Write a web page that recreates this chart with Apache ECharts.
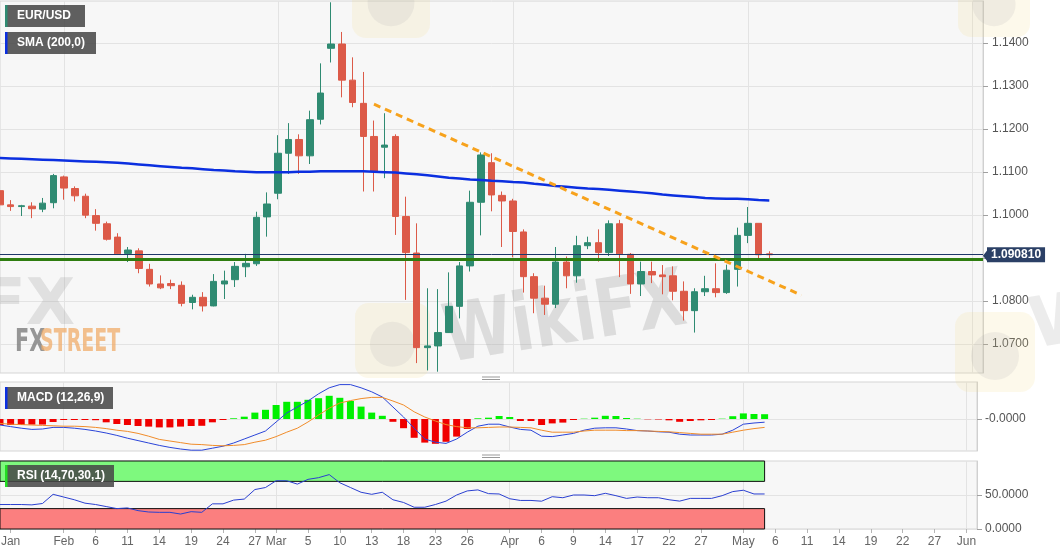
<!DOCTYPE html>
<html><head><meta charset="utf-8">
<script src="https://cdn.jsdelivr.net/npm/echarts@6/dist/echarts.min.js"></script>
<style>html,body{margin:0;padding:0;background:#fff}#c{width:1060px;height:555px}</style>
</head><body><div id="c"></div><script>
const dates = ['01-24','01-27','01-28','01-29','01-30','01-31',
'02-03','02-04','02-05','02-06','02-07','02-10','02-11','02-12','02-13','02-14','02-17','02-18','02-19','02-20','02-21','02-24','02-25','02-26','02-27','02-28',
'03-02','03-03','03-04','03-05','03-06','03-09','03-10','03-11','03-12','03-13','03-16','03-17','03-18','03-19','03-20','03-23','03-24','03-25','03-26','03-27','03-30','03-31',
'04-01','04-02','04-03','04-06','04-07','04-08','04-09','04-10','04-13','04-14','04-15','04-16','04-17','04-20','04-21','04-22','04-23','04-24','04-27','04-28','04-29','04-30',
'05-01','05-04','05-05','05-06','05-07','05-08','05-11','05-12','05-13','05-14','05-15','05-18','05-19','05-20','05-21','05-22','05-25','05-26','05-27','05-28','05-29',
'06-01','06-02'];

const opens = [1.1057,1.1024,1.1020,1.1021,1.1014,1.1029,1.1089,1.1062,1.1044,1.0999,
1.0980,1.0949,1.0911,1.0917,1.0874,1.0840,1.0841,1.0837,1.0797,1.0809,
1.0789,1.0840,1.0850,1.0880,1.0887,1.0996,1.1051,1.1144,1.1176,1.1138,
1.1223,1.1388,1.1398,1.1314,1.1260,1.1183,1.1158,1.1183,1.0997,1.0912,
1.0692,1.0696,1.0727,1.0788,1.0882,1.1030,1.1122,1.1046,1.1033,1.0961,
1.0857,1.0807,1.0793,1.0891,1.0859,1.0929,1.0936,1.0913,1.0980,1.0909,
1.0840,1.0869,1.0861,1.0859,1.0823,1.0778,1.0822,1.0829,1.0820,1.0874,
1.0953,1.0981,1.0910];
const closes = [1.1024,1.1020,1.1022,1.1015,1.1028,1.1092,1.1063,1.1045,1.1000,1.0981,
1.0944,1.0910,1.0919,1.0876,1.0840,1.0831,1.0836,1.0795,1.0809,1.0789,
1.0846,1.0847,1.0881,1.0888,1.0995,1.1026,1.1144,1.1176,1.1138,1.1222,
1.1284,1.1398,1.1314,1.1262,1.1183,1.1102,1.1163,1.0997,1.0913,1.0692,
1.0696,1.0727,1.0788,1.0882,1.1030,1.1140,1.1047,1.1033,1.0962,1.0857,
1.0807,1.0793,1.0891,1.0859,1.0929,1.0936,1.0913,1.0980,1.0910,1.0840,
1.0869,1.0861,1.0857,1.0823,1.0778,1.0822,1.0829,1.0820,1.0872,1.0953,
1.0981,1.0908,1.0908];
const highs = [1.1062,1.1035,1.1024,1.1030,1.1040,1.1096,1.1092,1.1067,1.1050,1.1014,
1.0985,1.0958,1.0926,1.0923,1.0887,1.0860,1.0850,1.0846,1.0815,1.0821,
1.0863,1.0871,1.0891,1.0910,1.1008,1.1053,1.1186,1.1214,1.1188,1.1243,
1.1353,1.1495,1.1426,1.1367,1.1333,1.1220,1.1237,1.1188,1.1043,1.0981,
1.0830,1.0828,1.0867,1.0891,1.1057,1.1146,1.1144,1.1055,1.1038,1.0967,
1.0865,1.0836,1.0926,1.0904,1.0952,1.0950,1.0967,1.0988,1.0989,1.0912,
1.0892,1.0892,1.0884,1.0881,1.0846,1.0830,1.0859,1.0888,1.0885,1.0971,
1.1019,1.0981,1.0916];
const lows = [1.1018,1.1010,1.0998,1.0993,1.1007,1.1016,1.1036,1.1032,1.0993,1.0964,
1.0941,1.0908,1.0891,1.0865,1.0834,1.0828,1.0828,1.0788,1.0781,1.0776,
1.0788,1.0805,1.0833,1.0856,1.0882,1.0950,1.1037,1.1096,1.1096,1.1119,
1.1211,1.1355,1.1274,1.1251,1.1055,1.1055,1.1086,1.0954,1.0803,1.0656,
1.0639,1.0636,1.0726,1.0760,1.0869,1.0953,1.1009,1.0926,1.0902,1.0820,
1.0772,1.0768,1.0784,1.0830,1.0843,1.0921,1.0892,1.0905,1.0856,1.0817,
1.0812,1.0842,1.0816,1.0802,1.0755,1.0727,1.0812,1.0809,1.0817,1.0834,
1.0935,1.0900,1.0900];

const sma200 = [1.1133,1.1132,1.1131,1.1130,1.1129,1.1128,1.1127,1.1126,1.1125,1.1124,
1.1123,1.1122,1.1120,1.1118,1.1116,1.1114,1.1112,1.1110,1.1109,1.1107,
1.1105,1.1104,1.1102,1.1101,1.1100,1.1100,1.1100,1.1100,1.1101,1.1101,
1.1102,1.1102,1.1102,1.1102,1.1102,1.1101,1.1100,1.1099,1.1097,1.1095,
1.1093,1.1090,1.1087,1.1085,1.1083,1.1082,1.1080,1.1079,1.1077,1.1076,
1.1073,1.1071,1.1068,1.1066,1.1064,1.1062,1.1061,1.1059,1.1057,1.1055,
1.1053,1.1051,1.1048,1.1046,1.1044,1.1042,1.1040,1.1039,1.1038,1.1038,
1.1037,1.1035,1.1034];

const macdHist = [-0.0015,-0.0015,-0.0015,-0.0014,-0.0014,-0.00075,-0.00025,-0.00025,-0.00025,-0.0003,
-0.00083,-0.00125,-0.0015,-0.00175,-0.0019,-0.0021,-0.0021,-0.0019,-0.00175,-0.0017,
-0.00083,-0.00025,0.00018,0.00058,0.0016,0.0023,0.0035,0.0043,0.0043,0.0048,
0.0052,0.0058,0.0053,0.0045,0.0031,0.0016,0.0008,-0.0007,-0.0023,-0.0047,
-0.0059,-0.0062,-0.0057,-0.0044,-0.0025,0.00018,0.00033,0.00075,0.0005,-0.0005,
-0.0005,-0.0015,-0.0011,-0.0009,-0.00025,0.00008,0.00033,0.0008,0.00075,0.00025,
0.00008,-0.00008,-0.00012,-0.00033,-0.0007,-0.0005,-0.00033,-0.00025,0.00008,0.0007,
0.0014,0.00125,0.0012];
const macdLine = [-0.0015,-0.0019,-0.0023,-0.0026,-0.0025,-0.0021,-0.0021,-0.0023,-0.0026,-0.0030,
-0.0035,-0.0041,-0.0048,-0.0054,-0.0060,-0.0066,-0.0071,-0.0075,-0.0078,-0.0078,
-0.0073,-0.0068,-0.0060,-0.0050,-0.0040,-0.0030,-0.00075,0.0015,0.0030,0.0045,
0.0063,0.0078,0.0086,0.0086,0.0078,0.0068,0.0055,0.0030,0.0005,-0.0023,
-0.0050,-0.0058,-0.0061,-0.0050,-0.0033,-0.0018,-0.0013,-0.0013,-0.0020,-0.0026,
-0.0028,-0.0043,-0.0044,-0.0040,-0.0036,-0.0028,-0.0023,-0.0022,-0.0022,-0.0025,
-0.0029,-0.0030,-0.0032,-0.0033,-0.0038,-0.0040,-0.0040,-0.0040,-0.0038,-0.0028,
-0.0013,-0.0010,-0.0008];
const macdSignal = [-0.0011,-0.0013,-0.0014,-0.0015,-0.0016,-0.0017,-0.0018,-0.0018,-0.0019,-0.0021,
-0.0024,-0.0028,-0.0031,-0.0036,-0.0043,-0.0051,-0.0055,-0.0059,-0.0063,-0.0064,
-0.0066,-0.0067,-0.0066,-0.0064,-0.0058,-0.0053,-0.0044,-0.0033,-0.0023,-0.00075,
0.0010,0.0027,0.0040,0.0046,0.0051,0.0054,0.0054,0.0045,0.0035,0.0018,
0.0005,-0.0005,-0.0014,-0.0019,-0.0022,-0.0022,-0.0021,-0.0020,-0.0020,-0.0021,
-0.0022,-0.0028,-0.0033,-0.0033,-0.0033,-0.0030,-0.0028,-0.0028,-0.0028,-0.0029,
-0.0029,-0.0030,-0.0031,-0.0032,-0.0034,-0.0036,-0.0038,-0.0038,-0.0038,-0.0033,
-0.0028,-0.0024,-0.0021];

const rsi14 = [36,36,36,35.5,37.5,51,47,43,38,36,
33,30,31,27,25,24.5,24.5,22,25.5,24.5,
37,37,42.5,44,58,61,71,71,66,73,
75.5,80,68,61,54,51,54,43,39,32,
32,36,41,50,56,57.5,52,51.5,44.5,42,
42,40.9,47.5,46,50,50,49,52.5,49,45,
47,46,46,43,41,45,45,45,49,55,
57,51.5,51.5];

const priceTicks = [1.07,1.08,1.09,1.10,1.11,1.12,1.13,1.14];
const tickDates = ['01-27','02-03','02-06','02-11','02-14','02-19','02-24','02-27','03-02','03-05','03-10','03-13','03-18','03-23','03-26','04-01','04-06','04-09','04-14','04-17','04-22','04-27','05-01','05-06','05-11','05-14','05-19','05-22','05-27','06-01'];
const tickLabels = ['Jan','Feb','6','11','14','19','24','27','Mar','5','10','13','18','23','26','Apr','6','9','14','17','22','27','May','6','11','14','19','22','27','Jun'];
const monthStarts = ['02-03','03-02','04-01','05-01','06-01'];
const trendLine = [['03-13',1.1258],['05-08',1.0814]];
const supportLevel = 1.0897;
const lastPrice = 1.09081;
const lastPriceText = '1.090810';

const FONT = '"Liberation Sans", Arial, sans-serif';
const UP = '#2f8b72', DOWN = '#dc5a48';
const GRIDC = '#e3e3e3';
const candles = opens.map((o,i)=>[o, closes[i], lows[i], highs[i]]);
const monthSplit = (i,v)=>monthStarts.indexOf(v)>=0;
const tickSel = (i,v)=>tickDates.indexOf(v)>=0;

function hiddenX(gi){
  return {type:'category', gridIndex:gi, data:dates, boundaryGap:false,
    axisLine:{show:false,onZero:false}, axisTick:{show:false}, axisLabel:{show:false},
    splitLine:{show:true, interval:monthSplit, lineStyle:{color:GRIDC,width:1}}};
}
const gridBase = {show:true, backgroundColor:'#f7f7f7', borderColor:'#d5d5d5', borderWidth:1, outerBoundsMode:'none', containLabel:false};

function box(x,y,w,h,stripe,text){
  return [
    {type:'rect', z:50, silent:true, shape:{x:x,y:y,width:w,height:h}, style:{fill:'rgba(70,70,70,0.86)'}},
    {type:'rect', z:51, silent:true, shape:{x:x,y:y,width:2.5,height:h}, style:{fill:stripe}},
    {type:'text', z:52, silent:true, x:x+12, y:y+h/2, style:{text:text, fill:'#fff', font:'bold 12px '+FONT, verticalAlign:'middle'}}
  ];
}
function handle(cx,y){
  return [
    {type:'line', z:50, silent:true, shape:{x1:cx-9,y1:y,x2:cx+9,y2:y}, style:{stroke:'#999',lineWidth:1}},
    {type:'line', z:50, silent:true, shape:{x1:cx-9,y1:y+2.5,x2:cx+9,y2:y+2.5}, style:{stroke:'#999',lineWidth:1}}
  ];
}
function logo(x,y,s){
  return [
    {type:'rect', z:1, silent:true, shape:{x:x,y:y,width:s,height:s,r:s*0.18}, style:{fill:'rgba(245,215,130,0.16)'}},
    {type:'circle', z:1, silent:true, shape:{cx:x+s*0.5,cy:y+s*0.55,r:s*0.3}, style:{fill:'rgba(150,150,160,0.12)'}}
  ];
}

const graphics = [].concat(
  [{type:'text', z:1, silent:true, x:-18, y:275, style:{text:'FX', fill:'rgba(160,160,160,0.26)', font:'bold 64px "DejaVu Sans", sans-serif'}},
   {type:'text', z:1, silent:true, x:15, y:327, scaleX:0.72, style:{text:'FX', fill:'rgba(125,125,125,0.8)', font:'bold 32px "DejaVu Sans Condensed", "Liberation Sans Narrow", sans-serif'}},
   {type:'text', z:1, silent:true, x:40, y:327, scaleX:0.66, style:{text:'STREET', fill:'rgba(240,172,105,0.75)', font:'bold 32px "DejaVu Sans Condensed", "Liberation Sans Narrow", sans-serif'}}],
  logo(352,-40,78), logo(355,303,75), logo(958,-35,72), logo(955,312,80),
  [{type:'text', z:1, silent:true, x:565, y:322, rotation:0.16, scaleX:0.78, style:{text:'WikiFX', fill:'rgba(150,150,150,0.28)', font:'bold 80px "DejaVu Sans", sans-serif', align:'center', verticalAlign:'middle'}},
   {type:'text', z:1, silent:true, x:1030, y:330, rotation:0.16, style:{text:'W', fill:'rgba(150,150,150,0.18)', font:'bold 70px "DejaVu Sans", sans-serif', verticalAlign:'middle'}}],
  box(5,5,80,22,'#2f8b72','EUR/USD'),
  box(5,32,91,22,'#0b2fe0','SMA (200,0)'),
  box(5,387,108,22,'#0b2fe0','MACD (12,26,9)'),
  box(5,465,109,22,'#22dd22','RSI (14,70,30,1)'),
  handle(491,377), handle(491,455),
  [{type:'polygon', z:50, silent:true, shape:{points:[[983,255.7],[987.5,250],[987.5,261.5]]}, style:{fill:'#2b4066'}}]
);

const chart = echarts.init(document.getElementById('c'), null, {renderer:'canvas'});
chart.setOption({
  animation:false,
  backgroundColor:'#ffffff',
  textStyle:{fontFamily:FONT},
  grid:[
    Object.assign({left:0, top:1, width:983, height:372}, gridBase),
    Object.assign({left:0, top:382, width:977, height:69}, gridBase),
    Object.assign({left:0, top:461, width:977, height:68}, gridBase)
  ],
  xAxis:[
    hiddenX(0), hiddenX(1),
    {type:'category', gridIndex:2, data:dates, boundaryGap:false,
     axisLine:{show:false,onZero:false},
     axisTick:{show:true, interval:tickSel, length:4, lineStyle:{color:'#b5b5b5'}},
     axisLabel:{show:true, interval:tickSel, formatter:(v)=>tickLabels[tickDates.indexOf(v)], color:'#666', fontSize:12, margin:7, fontFamily:FONT},
     splitLine:{show:true, interval:monthSplit, lineStyle:{color:GRIDC,width:1}}}
  ],
  yAxis:[
    {type:'value', gridIndex:0, position:'right', min:1.0633, max:1.1498, scale:true,
     axisLine:{show:true, lineStyle:{color:'#d0d0d0'}},
     axisTick:{show:true, customValues:priceTicks, length:5, lineStyle:{color:'#a0a0a0'}},
     axisLabel:{customValues:priceTicks, formatter:(v)=>v.toFixed(4), color:'#555', fontSize:12, margin:9, fontFamily:FONT},
     splitLine:{show:true, lineStyle:{color:GRIDC}}},
    {type:'value', gridIndex:1, position:'right', min:-0.008, max:0.00925,
     axisLine:{show:true, lineStyle:{color:'#d0d0d0'}},
     axisTick:{show:true, customValues:[0], length:5, lineStyle:{color:'#a0a0a0'}},
     axisLabel:{customValues:[0], formatter:()=> '-0.0000', color:'#555', fontSize:12, margin:8, fontFamily:FONT},
     splitLine:{show:true, lineStyle:{color:GRIDC}}},
    {type:'value', gridIndex:2, position:'right', min:0, max:100,
     axisLine:{show:true, lineStyle:{color:'#d0d0d0'}},
     axisTick:{show:true, customValues:[0,50], length:5, lineStyle:{color:'#a0a0a0'}},
     axisLabel:{customValues:[0,50], formatter:(v)=>v.toFixed(4), color:'#555', fontSize:12, margin:8, fontFamily:FONT},
     splitLine:{show:true, lineStyle:{color:GRIDC}}}
  ],
  series:[
    {type:'candlestick', name:'EUR/USD', xAxisIndex:0, yAxisIndex:0, data:candles, barWidth:7, z:4,
     itemStyle:{color:UP, color0:DOWN, borderColor:UP, borderColor0:DOWN, borderWidth:1}},
    {type:'line', name:'SMA (200,0)', xAxisIndex:0, yAxisIndex:0, data:sma200, symbol:'none', z:5,
     lineStyle:{color:'#0b2fe0', width:2.5},
     markLine:{silent:true, symbol:'none', animation:false, precision:6,
       data:[
         {yAxis:supportLevel, lineStyle:{color:'#2e7d10', width:3, type:'solid'}, label:{show:false}},
         {yAxis:lastPrice, lineStyle:{color:'#1d3669', width:1, type:'solid'},
          label:{show:true, position:'end', formatter:lastPriceText, color:'#fff', backgroundColor:'#2b4066',
                 fontWeight:'bold', fontSize:12, padding:[2,4,1,4], distance:4, fontFamily:FONT}}
       ]}},
    {type:'line', name:'trend', xAxisIndex:0, yAxisIndex:0, data:trendLine, symbol:'none', z:6,
     lineStyle:{color:'#f7a21c', width:3, type:[7,5]}},
    {type:'bar', name:'hist', xAxisIndex:1, yAxisIndex:1, barWidth:7, z:3,
     data:macdHist.map(v=>({value:v, itemStyle:{color: v>=0 ? '#00f000' : '#f00000'}}))},
    {type:'line', name:'MACD', xAxisIndex:1, yAxisIndex:1, data:macdLine, symbol:'none', z:4,
     lineStyle:{color:'#2a44d8', width:1}},
    {type:'line', name:'Signal', xAxisIndex:1, yAxisIndex:1, data:macdSignal, symbol:'none', z:4,
     lineStyle:{color:'#f08c2a', width:1}},
    {type:'line', name:'RSI', xAxisIndex:2, yAxisIndex:2, data:rsi14, symbol:'none', z:5,
     lineStyle:{color:'#2a3fd0', width:1},
     markArea:{silent:true, itemStyle:{borderColor:'#111', borderWidth:1},
       data:[
         [{xAxis:dates[0], yAxis:70, itemStyle:{color:'#7ef97e', borderColor:'#111', borderWidth:1}}, {xAxis:dates[rsi14.length-1], yAxis:100}],
         [{xAxis:dates[0], yAxis:0, itemStyle:{color:'#fb7f7f', borderColor:'#111', borderWidth:1}}, {xAxis:dates[rsi14.length-1], yAxis:30}]
       ]}}
  ],
  graphic: graphics
});
</script></body></html>
